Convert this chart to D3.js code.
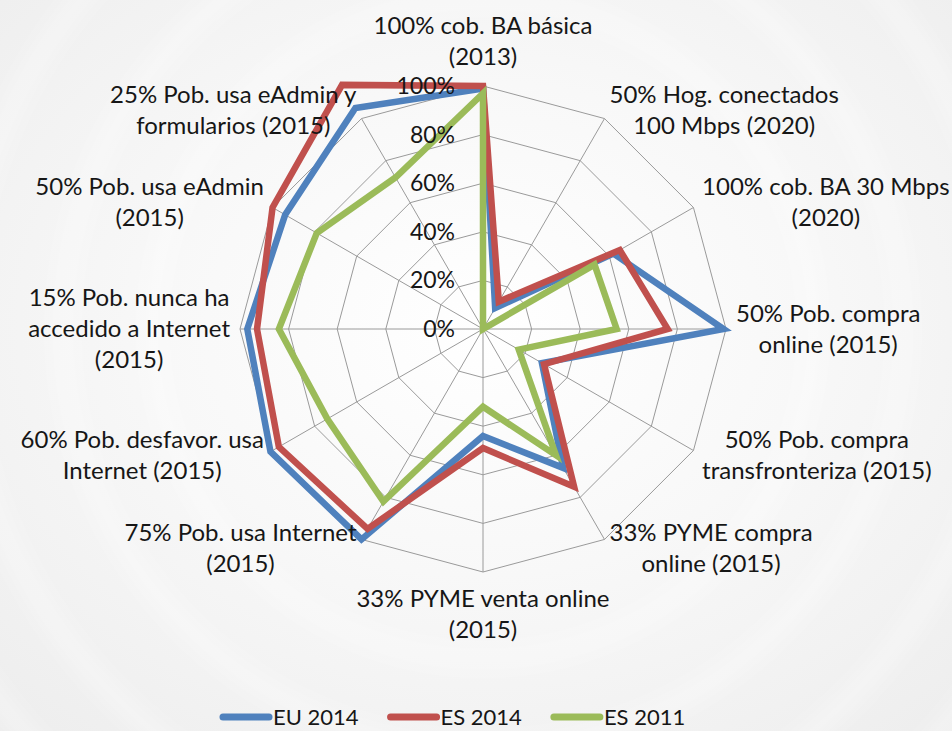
<!DOCTYPE html>
<html>
<head>
<meta charset="utf-8">
<script src="https://cdn.jsdelivr.net/npm/d3@7"></script>
<style>
  html, body { margin: 0; padding: 0; background: #f2f2f2; }
  svg text { font-family: Lato, "Noto Sans", sans-serif; fill: #161616; }
</style>
</head>
<body>
<div id="chart"></div>
<script>
// Radar chart: progress towards digital agenda targets

const categories = [
    "100% cob. BA básica\n(2013)",
    "50% Hog. conectados\n100 Mbps (2020)",
    "100% cob. BA 30 Mbps\n(2020)",
    "50% Pob. compra\nonline (2015)",
    "50% Pob. compra\ntransfronteriza (2015)",
    "33% PYME compra\nonline (2015)",
    "33% PYME venta online\n(2015)",
    "75% Pob. usa Internet\n(2015)",
    "60% Pob. desfavor. usa\nInternet (2015)",
    "15% Pob. nunca ha\naccedido a Internet\n(2015)",
    "50% Pob. usa eAdmin\n(2015)",
    "25% Pob. usa eAdmin y\nformularios (2015)"
];

const eu2014 = [99, 10, 62, 99, 28, 66, 44, 100, 101, 97, 94, 105];
const es2014 = [100, 13, 65, 76, 29, 75, 49, 95, 97, 93, 100, 116];
const es2011 = [97, 0, 53, 55, 17, 60, 32, 82, 74, 84, 79, 72];

const seriesNames = ["EU 2014", "ES 2014", "ES 2011"];
const tickValues = [0, 20, 40, 60, 80, 100];

const width = 952, height = 731;
const cx = 483, cy = 329, radius = 243;
const colors = ["#4f81bd", "#c0504d", "#9bbb59"];
const fontSize = 24, lineHeight = 31;

const svg = d3.select("#chart")
    .append("svg")
    .attr("width", width)
    .attr("height", height);

// background
const defs = svg.append("defs");
const grad = defs.append("radialGradient")
    .attr("id", "bg")
    .attr("cx", cx / width).attr("cy", cy / height).attr("r", 0.75);
grad.append("stop").attr("offset", "0%").attr("stop-color", "#ffffff");
grad.append("stop").attr("offset", "45%").attr("stop-color", "#f8f8f8");
grad.append("stop").attr("offset", "100%").attr("stop-color", "#ededed");
defs.append("filter").attr("id", "blur")
    .append("feGaussianBlur").attr("stdDeviation", 10);

svg.append("rect")
    .attr("width", width).attr("height", height)
    .attr("fill", "url(#bg)");

const swirl = svg.append("g").attr("filter", "url(#blur)");
[330, 420, 520, 610].forEach(r => {
    swirl.append("circle")
        .attr("cx", cx).attr("cy", cy).attr("r", r)
        .attr("fill", "none")
        .attr("stroke", "#ffffff")
        .attr("stroke-opacity", 0.45)
        .attr("stroke-width", 14);
});

const n = categories.length;
const angle = d3.scaleLinear().domain([0, n]).range([0, 2 * Math.PI]);
const r = d3.scaleLinear().domain([0, 100]).range([0, radius]);

const point = (i, v) => [cx + r(v) * Math.sin(angle(i)), cy - r(v) * Math.cos(angle(i))];

// grid rings
const grid = svg.append("g");
tickValues.slice(1).forEach(t => {
    grid.append("polygon")
        .attr("points", d3.range(n).map(i => point(i, t).join(",")).join(" "))
        .attr("fill", "none")
        .attr("stroke", "#9a9a9a")
        .attr("stroke-width", 1);
});

// spokes
grid.selectAll(".spoke")
    .data(d3.range(n))
    .enter().append("line")
    .attr("class", "spoke")
    .attr("x1", cx).attr("y1", cy)
    .attr("x2", i => point(i, 100)[0])
    .attr("y2", i => point(i, 100)[1])
    .attr("stroke", "#9a9a9a")
    .attr("stroke-width", 1);

// series
const allSeries = [eu2014, es2014, es2011];
const line = d3.line()
    .x((d, i) => point(i, d)[0])
    .y((d, i) => point(i, d)[1])
    .curve(d3.curveLinearClosed);

svg.selectAll(".series")
    .data(allSeries)
    .enter().append("path")
    .attr("class", "series")
    .attr("d", d => line(d))
    .attr("fill", "none")
    .attr("stroke", (d, i) => colors[i])
    .attr("stroke-width", 6.5)
    .attr("stroke-linejoin", "miter")
    .attr("stroke-miterlimit", 4);

// tick labels on the vertical axis
svg.selectAll(".tick-label")
    .data(tickValues)
    .enter().append("text")
    .attr("class", "tick-label")
    .attr("x", cx - 28)
    .attr("y", d => cy - r(d))
    .attr("dy", "0.35em")
    .attr("text-anchor", "end")
    .style("font-size", (fontSize - 1) + "px")
    .text(d => d + "%");

// category labels
const pad = 10;
categories.forEach((label, i) => {
    const lines = label.split("\n");
    const a = angle(i);
    const s = Math.sin(a), c = Math.cos(a);
    const ax = cx + (radius + pad) * s;
    const ay = cy - (radius + pad) * c;

    const g = svg.append("g");
    const texts = lines.map(t => g.append("text")
        .attr("text-anchor", "middle")
        .style("font-size", fontSize + "px")
        .text(t));
    const w = d3.max(texts, t => t.node().getComputedTextLength());

    let x, firstBase;
    if (Math.abs(s) < 0.01) {
        x = ax;
        if (c > 0) firstBase = ay - 0.45 * fontSize - (lines.length - 1) * lineHeight;
        else firstBase = ay + 1.05 * fontSize;
    } else {
        x = ax + (s > 0 ? 1 : -1) * w / 2;
        firstBase = ay - (lines.length - 1) * lineHeight / 2 + 0.35 * fontSize;
    }
    texts.forEach((t, k) => t.attr("x", x).attr("y", firstBase + k * lineHeight));
});

// legend
const legendY = 717, lineLen = 52, itemGap = 29;
const legend = svg.append("g").attr("transform", "translate(220,0)");
let lx = 0;
seriesNames.forEach((name, i) => {
    legend.append("line")
        .attr("x1", lx + 3).attr("x2", lx + lineLen - 3)
        .attr("y1", legendY).attr("y2", legendY)
        .attr("stroke", colors[i])
        .attr("stroke-width", 7)
        .attr("stroke-linecap", "round");
    const t = legend.append("text")
        .attr("x", lx + lineLen + 1)
        .attr("y", legendY)
        .attr("dy", "0.35em")
        .style("font-size", "22px")
        .text(name);
    lx += lineLen + 1 + t.node().getComputedTextLength() + itemGap;
});
</script>
</body>
</html>
